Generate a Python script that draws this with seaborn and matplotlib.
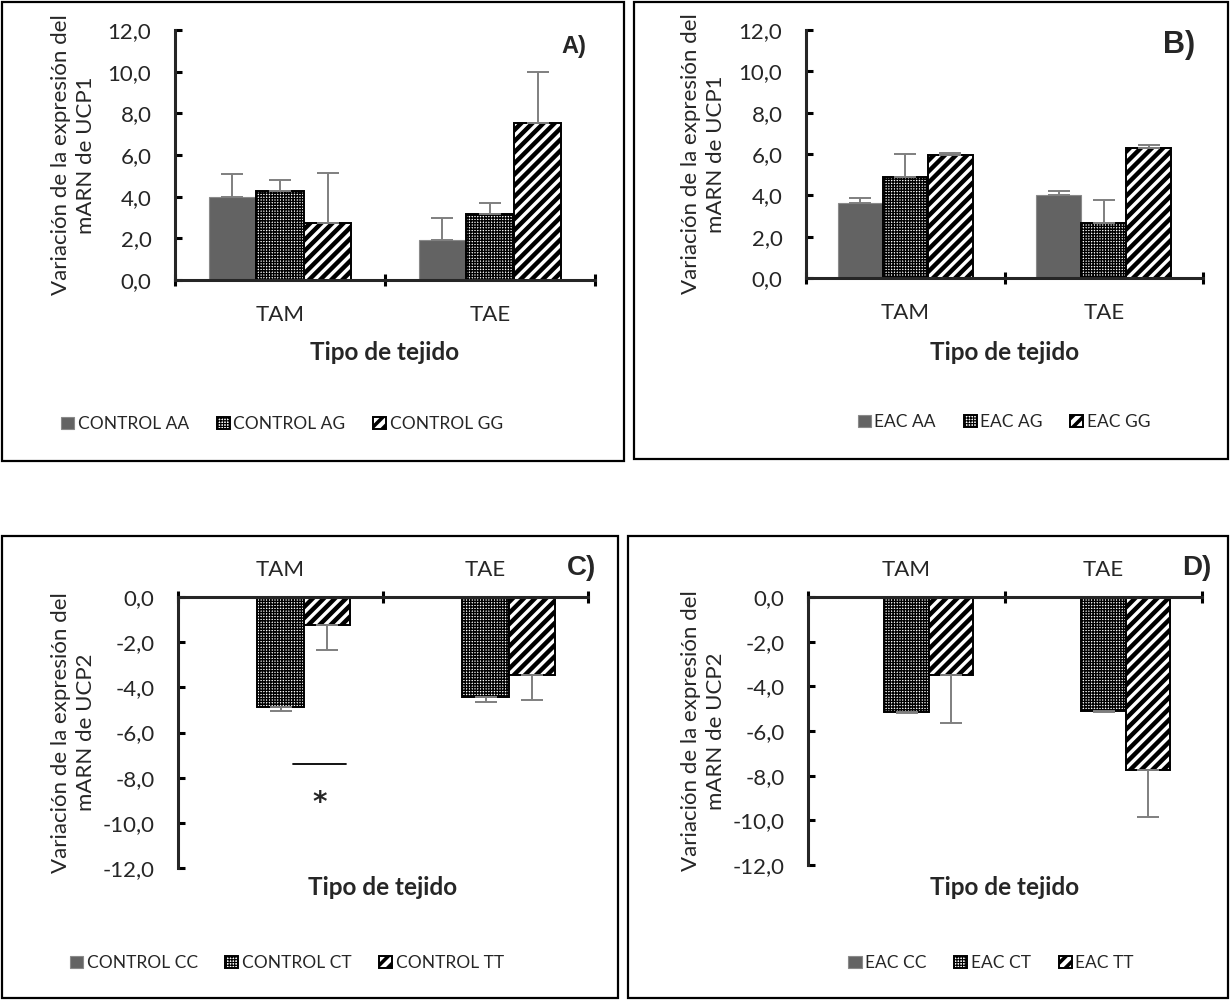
import numpy as np
import pandas as pd
import matplotlib
matplotlib.use('Agg')
import matplotlib.pyplot as plt
import seaborn as sns
from matplotlib.patches import Rectangle
from matplotlib.container import BarContainer
from matplotlib.ticker import FuncFormatter, FixedLocator

TEJIDOS = ['TAM', 'TAE']

# UCP1 (A: control, B: EAC) - media y error (por genotipo, por tejido)
A_GENOTIPOS = ['CONTROL AA', 'CONTROL AG', 'CONTROL GG']
A_VALORES = [[4.0, 1.9], [4.25, 3.15], [2.75, 7.55]]
A_ERRORES = [[1.1, 1.1], [0.55, 0.55], [2.4, 2.45]]

B_GENOTIPOS = ['EAC AA', 'EAC AG', 'EAC GG']
B_VALORES = [[3.65, 4.0], [4.9, 2.65], [5.95, 6.3]]
B_ERRORES = [[0.2, 0.2], [1.1, 1.1], [0.12, 0.12]]

# UCP2 (C: control, D: EAC)
C_GENOTIPOS = ['CONTROL CC', 'CONTROL CT', 'CONTROL TT']
C_VALORES = [[0.0, 0.0], [-4.85, -4.45], [-1.25, -3.45]]
C_ERRORES = [[0.0, 0.0], [0.2, 0.2], [1.1, 1.1]]

D_GENOTIPOS = ['EAC CC', 'EAC CT', 'EAC TT']
D_VALORES = [[0.0, 0.0], [-5.15, -5.1], [-3.5, -7.75]]
D_ERRORES = [[0.0, 0.0], [0.03, 0.03], [2.15, 2.1]]

# significancia en C (TAM)
SIG_LINEA_Y = -7.4
SIG_ESTRELLA_Y = -9.1

W, H = 1230, 1001
FONT = ['Lato', 'DejaVu Sans']
FS = 16
FS_LEG = 12.5
GRIS = '#636363'
HATCHES = [None, '++++++', '///']
HATCH_LW = [0, 1.0, 3.2]

sns.set_style('white')
plt.rcParams['font.family'] = FONT
plt.rcParams['axes.unicode_minus'] = False
plt.rcParams['hatch.linewidth'] = 3.2

fig = plt.figure(figsize=(W / 100, H / 100), dpi=100)


def px(x0, y0, x1, y1):
    """pixel box (top-left origin) -> figure fraction rect"""
    return [x0 / W, 1 - y1 / H, (x1 - x0) / W, (y1 - y0) / H]


def coma(v, _):
    return f'{v:.1f}'.replace('.', ',')


def panel(rect, genotipos, valores, errores, ucp, letra, letra_pos, letra_fs,
          leg_pos, ylab_x, xlab_y, negativo=False):
    ax = fig.add_axes(rect)
    df = pd.DataFrame({
        'tejido': TEJIDOS * len(genotipos),
        'genotipo': np.repeat(genotipos, len(TEJIDOS)),
        'valor': np.ravel(valores),
    })
    sns.barplot(data=df, x='tejido', y='valor', hue='genotipo', order=TEJIDOS,
                hue_order=genotipos, palette=[GRIS, 'white', 'white'],
                width=0.68, errorbar=None, saturation=1, legend=False, ax=ax)

    bars = [c for c in ax.containers if isinstance(c, BarContainer)]
    for i, cont in enumerate(bars):
        for bar, err in zip(cont.patches, errores[i]):
            if HATCHES[i]:
                bar.set_hatch(HATCHES[i])
                bar.set_edgecolor('black')
                bar.set_linewidth(1.4)
                if hasattr(bar, 'set_hatch_linewidth'):
                    bar.set_hatch_linewidth(HATCH_LW[i])
            else:
                bar.set_edgecolor('#8a8a8a')
                bar.set_linewidth(0.8)
            if err > 0:
                xc = bar.get_x() + bar.get_width() / 2
                h = bar.get_height()
                yerr = [[0], [err]] if h >= 0 else [[err], [0]]
                ax.errorbar([xc], [h], yerr=yerr, color='#7f7f7f', lw=1.4,
                            capsize=8, capthick=1.4, zorder=1)

    ax.set_xlim(-0.5, 1.5)
    if negativo:
        ax.set_ylim(-12, 0)
        ax.yaxis.set_major_locator(FixedLocator(np.arange(-12, 0.1, 2)))
    else:
        ax.set_ylim(0, 12)
        ax.yaxis.set_major_locator(FixedLocator(np.arange(0, 12.1, 2)))
    ax.yaxis.set_major_formatter(FuncFormatter(coma))

    ax.set_xticks([-0.5, 0.5, 1.5])
    ax.set_xticklabels([])
    ax.set_xticks([0, 1], minor=True)
    ax.set_xticklabels(TEJIDOS, minor=True)

    for s in ax.spines.values():
        s.set_visible(False)
    ax.spines['left'].set_visible(True)
    ax.spines['left'].set_linewidth(2.2)
    side = 'top' if negativo else 'bottom'
    ax.spines[side].set_visible(True)
    ax.spines[side].set_linewidth(2.2)
    if negativo:
        ax.xaxis.tick_top()
        ax.tick_params(axis='x', which='major', top=True, bottom=False)
        ax.tick_params(axis='x', which='minor', top=True, bottom=False,
                       labeltop=True, labelbottom=False, pad=12)
    else:
        ax.tick_params(axis='x', which='both', bottom=True)
        ax.tick_params(axis='x', which='minor', pad=18)

    ax.tick_params(axis='x', which='major', direction='inout', length=9,
                   width=2.2, color='black')
    ax.tick_params(axis='x', which='minor', length=0, labelsize=FS)
    ax.tick_params(axis='y', which='major', left=True, direction='in',
                   length=5, width=2.2, color='black', pad=17, labelsize=FS)
    ax.grid(False)

    ax.set_xlabel('Tipo de tejido', fontsize=17.5, fontweight='bold', va='top')
    ax.xaxis.set_label_coords(0.5, xlab_y)
    ax.set_ylabel(f'Variación de la expresión del\nmARN de {ucp}',
                  fontsize=FS, linespacing=1.3)
    ax.yaxis.set_label_coords(ylab_x, 0.5)

    fig.text(letra_pos[0] / W, 1 - letra_pos[1] / H, letra,
             family=['Liberation Sans', 'DejaVu Sans'], fontweight='bold',
             fontsize=letra_fs, ha='center', va='center')

    handles = [cont.patches[0] for cont in bars]
    leg = fig.legend(handles, genotipos, loc='center',
                     bbox_to_anchor=(leg_pos[0] / W, 1 - leg_pos[1] / H),
                     ncol=3, frameon=False, fontsize=FS_LEG, handlelength=0.75,
                     handleheight=0.75, handletextpad=0.2, columnspacing=1.6)
    for i, hnd in enumerate(leg.legend_handles):
        if HATCHES[i] and hasattr(hnd, 'set_hatch_linewidth'):
            hnd.set_hatch_linewidth(HATCH_LW[i] * 0.8)
    return ax, bars


ax_a, _ = panel(px(175, 30, 595, 280), A_GENOTIPOS, A_VALORES, A_ERRORES,
                'UCP1', 'A)', (574, 47), 17, (282, 424),
                (96 - 175) / 420, -0.244)
ax_b, _ = panel(px(806, 30, 1203, 278), B_GENOTIPOS, B_VALORES, B_ERRORES,
                'UCP1', 'B)', (1179, 45), 22, (1004, 422),
                (726 - 806) / 397, -0.254)
ax_c, bars_c = panel(px(178, 597, 588, 868), C_GENOTIPOS, C_VALORES, C_ERRORES,
                     'UCP2', 'C)', (581, 568), 20, (287, 963),
                     (96 - 178) / 410, -0.03, negativo=True)
ax_d, _ = panel(px(808, 597, 1202, 865), D_GENOTIPOS, D_VALORES, D_ERRORES,
                'UCP2', 'D)', (1197, 568), 20, (991, 963),
                (726 - 808) / 394, -0.041, negativo=True)

# linea de significancia y asterisco en C, sobre las barras CT/TT de TAM
ct = bars_c[1].patches[0]
tt = bars_c[2].patches[0]
x0 = ct.get_x() + ct.get_width() * 0.77
x1 = tt.get_x() + tt.get_width() * 0.9
ax_c.plot([x0, x1], [SIG_LINEA_Y, SIG_LINEA_Y], color='black', lw=1.3)
ax_c.text((x0 + x1) / 2, SIG_ESTRELLA_Y, '*', ha='center', va='center',
          fontsize=20, family=['DejaVu Sans'], fontweight='bold')

# marcos de cada panel
for x0p, y0p, x1p, y1p in [(2, 2, 624, 461), (634, 2, 1228, 459),
                           (2, 536, 618, 998), (628, 536, 1228, 998)]:
    fig.add_artist(Rectangle((x0p / W, 1 - y1p / H), (x1p - x0p) / W,
                             (y1p - y0p) / H, transform=fig.transFigure,
                             fill=False, lw=1.6, ec='black'))

fig.savefig('out.png', dpi=100)
